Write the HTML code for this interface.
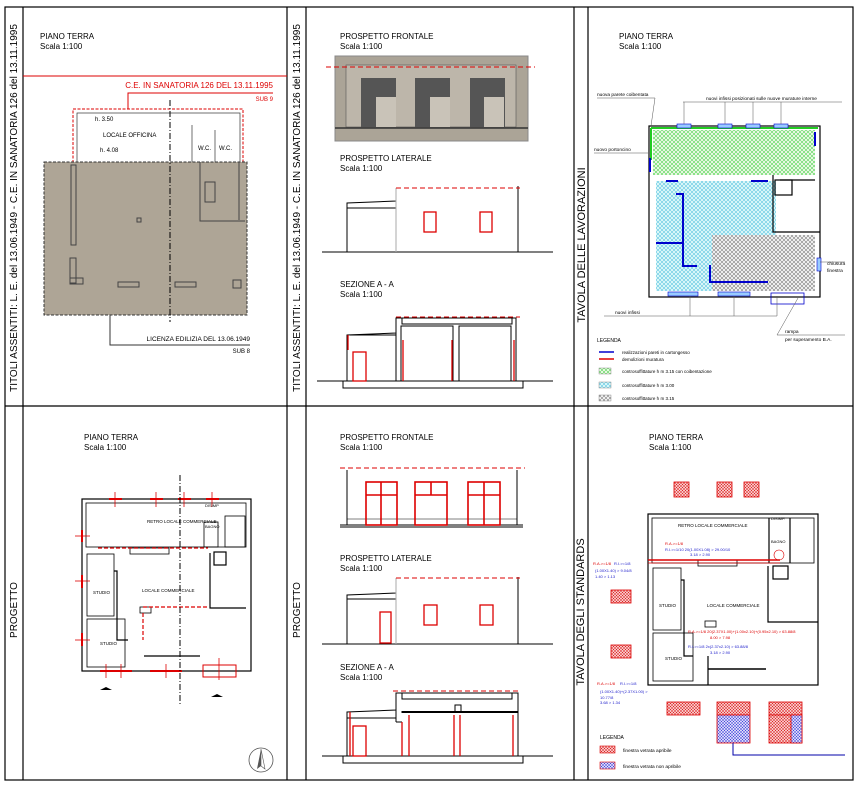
<!DOCTYPE html>
<html><head><meta charset="utf-8"><style>
html,body{margin:0;padding:0;background:#fff}
svg{display:block}
text{font-family:"Liberation Sans",sans-serif;fill:#000}
.t{font-size:8px}
.s{font-size:4.5px}
.r{fill:#d00}
.b{fill:#22c}
</style></head><body>
<svg width="857" height="785" viewBox="0 0 857 785" xmlns="http://www.w3.org/2000/svg">
<defs>
<pattern id="hg" width="4" height="4" patternUnits="userSpaceOnUse"><rect width="4" height="4" fill="#e6f7e0"/><path d="M0 0L4 4M4 0L0 4" stroke="#3c3" stroke-width=".5"/></pattern>
<pattern id="hc" width="4" height="4" patternUnits="userSpaceOnUse"><rect width="4" height="4" fill="#d8f6f8"/><path d="M0 0L4 4M4 0L0 4" stroke="#4bd" stroke-width=".5"/></pattern>
<pattern id="hk" width="4" height="4" patternUnits="userSpaceOnUse"><rect width="4" height="4" fill="#eee"/><path d="M0 0L4 4M4 0L0 4" stroke="#666" stroke-width=".5"/></pattern>
<pattern id="hr" width="3" height="3" patternUnits="userSpaceOnUse"><rect width="3" height="3" fill="#f6c8c8"/><path d="M0 0L3 3M3 0L0 3" stroke="#d22" stroke-width=".5"/></pattern>
<pattern id="hb" width="3" height="3" patternUnits="userSpaceOnUse"><rect width="3" height="3" fill="#d8d8f8"/><path d="M0 0L3 3M3 0L0 3" stroke="#44d" stroke-width=".5"/></pattern>
</defs>
<g fill="none" stroke="#000" stroke-width="1.2">
<rect x="5" y="7" width="848" height="773"/>
<line x1="23" y1="7" x2="23" y2="780"/>
<line x1="287" y1="7" x2="287" y2="780"/>
<line x1="306" y1="7" x2="306" y2="780"/>
<line x1="574" y1="7" x2="574" y2="780"/>
<line x1="588" y1="7" x2="588" y2="780"/>
<line x1="5" y1="406" x2="853" y2="406"/>
</g>
<!-- rotated labels -->
<text transform="translate(17,208) rotate(-90)" text-anchor="middle" font-size="10">TITOLI ASSENTITI: L. E. del 13.06.1949 - C.E. IN SANATORIA 126 del 13.11.1995</text>
<text transform="translate(300,208) rotate(-90)" text-anchor="middle" font-size="10">TITOLI ASSENTITI: L. E. del 13.06.1949 - C.E. IN SANATORIA 126 del 13.11.1995</text>
<text transform="translate(585,245) rotate(-90)" text-anchor="middle" font-size="11">TAVOLA DELLE LAVORAZIONI</text>
<text transform="translate(17,610) rotate(-90)" text-anchor="middle" font-size="10">PROGETTO</text>
<text transform="translate(300,610) rotate(-90)" text-anchor="middle" font-size="10">PROGETTO</text>
<text transform="translate(584,612) rotate(-90)" text-anchor="middle" font-size="11">TAVOLA DEGLI STANDARDS</text>

<!-- TOP LEFT -->
<text x="40" y="39" class="t">PIANO TERRA</text><text x="40" y="49" class="t">Scala 1:100</text>
<line x1="23" y1="76" x2="287" y2="76" stroke="#d00"/>
<text x="273" y="88" class="t r" text-anchor="end" font-size="7">C.E.   IN SANATORIA 126 DEL 13.11.1995</text>
<polyline points="273,93 128,93 128,109" fill="none" stroke="#d00"/>
<text x="273" y="101" class="r" font-size="6" text-anchor="end">SUB 9</text>
<rect x="73" y="109" width="170" height="55" fill="none" stroke="#d00" stroke-dasharray="3,1.5"/>
<rect x="77" y="113" width="163" height="50" fill="none" stroke="#333" stroke-width=".7"/>
<line x1="192" y1="125" x2="192" y2="163" stroke="#333" stroke-width=".7"/>
<line x1="215" y1="130" x2="215" y2="163" stroke="#333" stroke-width=".7"/>
<text x="95" y="121" font-size="6">h. 3.50</text>
<text x="103" y="137" font-size="6">LOCALE OFFICINA</text>
<text x="100" y="152" font-size="6">h. 4.08</text>
<text x="198" y="150" font-size="6">W.C.</text><text x="219" y="150" font-size="6">W.C.</text>
<rect x="44" y="162" width="203" height="153" fill="#aea596" stroke="#333" stroke-dasharray="3,1.5"/>
<g fill="none" stroke="#444" stroke-width="1">
<rect x="71" y="165" width="5" height="80"/><rect x="70" y="258" width="6" height="25"/><rect x="70" y="278" width="13" height="6"/>
<rect x="118" y="282" width="21" height="5"/><rect x="175" y="282" width="21" height="5"/>
<rect x="137" y="218" width="4" height="4"/>
<polyline points="200,162 200,221 245,221"/><polyline points="239,162 239,220"/><rect x="233" y="280" width="8" height="8"/>
<path d="M205 182h10v20h-10z"/>
</g>
<line x1="170" y1="100" x2="170" y2="322" stroke="#000" stroke-dasharray="6,2,1,2"/>
<polyline points="110,315 110,345 250,345" fill="none" stroke="#333"/>
<text x="250" y="341" font-size="6.5" text-anchor="end">LICENZA EDILIZIA DEL 13.06.1949</text>
<text x="250" y="353" font-size="6" text-anchor="end">SUB 8</text>

<!-- TOP MIDDLE -->
<text x="340" y="39" class="t">PROSPETTO FRONTALE</text><text x="340" y="49" class="t">Scala 1:100</text>
<rect x="335" y="56" width="193" height="85" fill="#aba497" stroke="#888"/>
<rect x="346" y="65" width="170" height="62" fill="#bdb6aa" stroke="#555" stroke-width=".6"/>
<g fill="#555"><rect x="361" y="78" width="35" height="49"/><rect x="415" y="78" width="35" height="49"/><rect x="470" y="78" width="35" height="49"/></g>
<g fill="#c9c3b8"><rect x="376" y="97" width="20" height="30"/><rect x="430" y="97" width="20" height="30"/><rect x="484" y="97" width="20" height="30"/></g>
<line x1="335" y1="128" x2="528" y2="128" stroke="#333" stroke-width="1.5"/>
<line x1="326" y1="67" x2="535" y2="67" stroke="#d00" stroke-dasharray="5,3"/>
<text x="340" y="161" class="t">PROSPETTO LATERALE</text><text x="340" y="171" class="t">Scala 1:100</text>
<g fill="none" stroke="#000">
<polyline points="322,252 553,252"/><polyline points="347,252 347,203 396,201 396,188"/><line x1="396" y1="208" x2="347" y2="208"/>
<polyline points="518,186 518,252"/><line x1="396" y1="188" x2="396" y2="252" stroke="#aaa"/>
</g>
<line x1="396" y1="188" x2="520" y2="188" stroke="#d00" stroke-dasharray="5,3"/>
<rect x="424" y="212" width="12" height="20" fill="none" stroke="#d00" stroke-width="1.3"/>
<rect x="480" y="212" width="12" height="20" fill="none" stroke="#d00" stroke-width="1.3"/>
<text x="340" y="287" class="t">SEZIONE A - A</text><text x="340" y="297" class="t">Scala 1:100</text>
<g fill="none" stroke="#000">
<line x1="317" y1="381" x2="553" y2="381"/><polyline points="343,381 343,388 523,388 523,381"/>
<polyline points="347,381 347,335 396,333 396,318 516,318 516,381"/>
<rect x="402" y="318" width="110" height="6"/>
<polyline points="401,381 401,326 453,326 453,381"/><polyline points="459,381 459,326 511,326 511,381"/>
<line x1="396" y1="333" x2="396" y2="381"/><line x1="350" y1="335" x2="396" y2="335"/>
</g>
<line x1="396" y1="317" x2="520" y2="317" stroke="#d00" stroke-dasharray="5,3"/>
<g stroke="#d00" stroke-width="1.3" fill="none"><rect x="353" y="352" width="13" height="29"/><line x1="348" y1="335" x2="348" y2="350"/><line x1="403" y1="340" x2="403" y2="381"/><line x1="452" y1="340" x2="452" y2="381"/><line x1="514" y1="340" x2="514" y2="381"/></g>

<!-- TOP RIGHT -->
<text x="619" y="39" class="t">PIANO TERRA</text><text x="619" y="49" class="t">Scala 1:100</text>
<rect x="653" y="130" width="162" height="45" fill="url(#hg)"/>
<rect x="656" y="181" width="120" height="110" fill="url(#hc)"/>
<rect x="712" y="235" width="103" height="56" fill="url(#hk)"/>
<g fill="none" stroke="#000" stroke-width="1.2">
<rect x="649" y="126" width="171" height="171"/>
<polyline points="773,175 773,232 820,232"/><polyline points="780,180 815,180"/>
<rect x="775" y="180" width="17" height="15"/>
</g>
<line x1="651" y1="128" x2="818" y2="128" stroke="#2c2" stroke-width="2"/>
<line x1="651" y1="128" x2="651" y2="160" stroke="#2c2" stroke-width="2"/>
<g stroke="#00c" stroke-width="2" fill="none">
<line x1="650" y1="158" x2="650" y2="172"/><line x1="815" y1="132" x2="815" y2="146"/>
<polyline points="676,194 683,194 683,266 697,266"/><line x1="656" y1="243" x2="683" y2="243"/>
<polyline points="710,265 710,282 768,282"/><line x1="666" y1="181" x2="678" y2="181"/><line x1="751" y1="181" x2="768" y2="181"/>
</g>
<g fill="#9cf" stroke="#00c" stroke-width=".6"><rect x="677" y="124" width="14" height="4"/><rect x="718" y="124" width="14" height="4"/><rect x="746" y="124" width="14" height="4"/><rect x="774" y="124" width="14" height="4"/><rect x="668" y="292" width="30" height="4"/><rect x="718" y="292" width="32" height="4"/><rect x="817" y="258" width="4" height="13"/></g>
<rect x="771" y="293" width="33" height="11" fill="none" stroke="#00c" stroke-width=".8"/>
<g stroke="#555" stroke-width=".5" fill="none">
<line x1="597" y1="98" x2="655" y2="98"/><line x1="655" y1="98" x2="651" y2="126"/>
<line x1="683" y1="102" x2="842" y2="102"/><line x1="684" y1="102" x2="684" y2="124"/><line x1="725" y1="102" x2="725" y2="124"/><line x1="753" y1="102" x2="753" y2="124"/><line x1="781" y1="102" x2="781" y2="124"/>
<line x1="594" y1="153" x2="648" y2="153"/>
<line x1="604" y1="316" x2="777" y2="316"/><line x1="690" y1="296" x2="690" y2="316"/><line x1="734" y1="296" x2="734" y2="316"/><line x1="777" y1="296" x2="777" y2="316"/>
<line x1="777" y1="335" x2="845" y2="335"/><line x1="777" y1="335" x2="798" y2="298"/>
<line x1="820" y1="262" x2="845" y2="262"/>
</g>
<text x="597" y="96" font-size="4.8">nuova parete coibentata</text>
<text x="706" y="100" font-size="4.8">nuovi infissi posizionati sulle nuove murature interne</text>
<text x="594" y="151" font-size="4.8">nuovo portoncino</text>
<text x="827" y="265" font-size="4.8">chiusura</text><text x="827" y="272" font-size="4.8">finestra</text>
<text x="615" y="314" font-size="4.8">nuovi infissi</text>
<text x="785" y="333" font-size="4.8">rampa</text><text x="785" y="341" font-size="4.8">per superamento B.A.</text>
<text x="597" y="342" font-size="5">LEGENDA</text>
<line x1="599" y1="352" x2="614" y2="352" stroke="#00c" stroke-width="1.5"/>
<line x1="599" y1="359" x2="614" y2="359" stroke="#d00" stroke-width="1.5"/>
<text x="622" y="354" font-size="4.5">realizzazioni pareti in cartongesso</text>
<text x="622" y="361" font-size="4.5">demolizioni muratura</text>
<rect x="599" y="368" width="12" height="6" fill="url(#hg)" stroke="#777" stroke-width=".4"/><text x="622" y="373" font-size="4.5">controsoffittature h m 3.15 con coibentazione</text>
<rect x="599" y="382" width="12" height="6" fill="url(#hc)" stroke="#777" stroke-width=".4"/><text x="622" y="387" font-size="4.5">controsoffittature h m 3.00</text>
<rect x="599" y="395" width="12" height="6" fill="url(#hk)" stroke="#777" stroke-width=".4"/><text x="622" y="400" font-size="4.5">controsoffittature h m 3.15</text>

<!-- BOTTOM LEFT -->
<text x="84" y="440" class="t">PIANO TERRA</text><text x="84" y="450" class="t">Scala 1:100</text>
<g fill="none" stroke="#000" stroke-width="1.2">
<rect x="82" y="499" width="169" height="172"/>
<rect x="86" y="503" width="160" height="44" stroke-width=".8"/>
<rect x="87" y="554" width="27" height="62" stroke-width=".8"/>
<rect x="87" y="619" width="38" height="48" stroke-width=".8"/>
<rect x="204" y="522" width="14" height="25" stroke-width=".8"/><rect x="225" y="516" width="20" height="31" stroke-width=".8"/>
<rect x="130" y="548" width="39" height="6" stroke-width=".8"/>
<polyline points="210,553 210,608 246,608"/><rect x="214" y="552" width="12" height="13"/>
<rect x="140" y="607" width="11" height="6" stroke-width=".8"/>
<polyline points="114,571 117,571 117,640 128,640"/>
</g>
<line x1="144" y1="656" x2="200" y2="656" stroke="#000" stroke-width="1.3"/>
<g stroke="#d00" stroke-width="1.2" fill="none" stroke-dasharray="4,2">
<line x1="98" y1="548" x2="208" y2="548"/><line x1="143" y1="607" x2="208" y2="607"/><line x1="143" y1="613" x2="143" y2="640"/>
</g>
<g stroke="#d00" stroke-width="2"><line x1="109" y1="499" x2="122" y2="499"/><line x1="150" y1="499" x2="163" y2="499"/><line x1="178" y1="499" x2="191" y2="499"/><line x1="206" y1="499" x2="219" y2="499"/>
<line x1="82" y1="530" x2="82" y2="542"/><line x1="82" y1="575" x2="82" y2="588"/><line x1="82" y1="633" x2="82" y2="646"/>
<line x1="100" y1="671" x2="132" y2="671"/><line x1="150" y1="671" x2="182" y2="671"/></g>
<rect x="203" y="665" width="33" height="12" fill="none" stroke="#d00"/>
<g stroke="#d00" stroke-width=".8"><line x1="115" y1="492" x2="115" y2="507"/><line x1="156" y1="492" x2="156" y2="507"/><line x1="184" y1="492" x2="184" y2="507"/><line x1="212" y1="492" x2="212" y2="507"/>
<line x1="75" y1="536" x2="90" y2="536"/><line x1="75" y1="581" x2="90" y2="581"/><line x1="75" y1="640" x2="90" y2="640"/>
<line x1="106" y1="664" x2="106" y2="678"/><line x1="121" y1="664" x2="121" y2="678"/><line x1="166" y1="664" x2="166" y2="678"/><line x1="219" y1="658" x2="219" y2="680"/></g>
<line x1="180" y1="475" x2="180" y2="705" stroke="#000" stroke-dasharray="6,2,1,2"/>
<text x="147" y="523" font-size="4.5">RETRO LOCALE COMMERCIALE</text>
<text x="142" y="592" font-size="4.5">LOCALE COMMERCIALE</text>
<text x="93" y="594" font-size="4.5">STUDIO</text><text x="100" y="645" font-size="4.5">STUDIO</text>
<text x="205" y="507" font-size="4">DISIMP</text><text x="205" y="528" font-size="4">BAGNO</text>
<path d="M100 690l6-3 6 3z M211 697l6-3 6 3z"/>
<circle cx="261" cy="760" r="12" fill="none" stroke="#555" stroke-width=".8"/><path d="M261 749l-4 20 4-3z" fill="#555"/><path d="M261 749l4 20-4-3z" fill="none" stroke="#555" stroke-width=".6"/>

<!-- BOTTOM MIDDLE -->
<text x="340" y="440" class="t">PROSPETTO FRONTALE</text><text x="340" y="450" class="t">Scala 1:100</text>
<line x1="340" y1="468" x2="525" y2="468" stroke="#d00" stroke-dasharray="5,3"/>
<g fill="none" stroke="#000"><line x1="347" y1="470" x2="347" y2="525"/><line x1="517" y1="470" x2="517" y2="525"/><line x1="340" y1="525" x2="523" y2="525"/><line x1="340" y1="527" x2="523" y2="527"/><line x1="347" y1="519" x2="517" y2="519" stroke-width=".5"/></g>
<g fill="none" stroke="#d00" stroke-width="1.6">
<rect x="366" y="482" width="31" height="43"/><line x1="366" y1="495" x2="397" y2="495"/><line x1="381" y1="482" x2="381" y2="525"/>
<rect x="415" y="482" width="32" height="43"/><line x1="415" y1="495" x2="447" y2="495"/><line x1="431" y1="482" x2="431" y2="495"/>
<rect x="468" y="482" width="32" height="43"/><line x1="468" y1="495" x2="500" y2="495"/><line x1="484" y1="482" x2="484" y2="525"/>
</g>
<text x="340" y="561" class="t">PROSPETTO LATERALE</text><text x="340" y="571" class="t">Scala 1:100</text>
<g fill="none" stroke="#000"><line x1="322" y1="644" x2="553" y2="644"/><polyline points="347,644 347,595 396,593 396,578"/><line x1="347" y1="599" x2="396" y2="599"/><line x1="518" y1="577" x2="518" y2="644"/><line x1="396" y1="578" x2="396" y2="644" stroke="#aaa"/></g>
<line x1="396" y1="578" x2="520" y2="578" stroke="#d00" stroke-dasharray="5,3"/>
<g fill="none" stroke="#d00" stroke-width="1.3"><rect x="380" y="612" width="11" height="31"/><rect x="424" y="605" width="13" height="20"/><rect x="480" y="605" width="13" height="20"/></g>
<text x="340" y="670" class="t">SEZIONE A - A</text><text x="340" y="680" class="t">Scala 1:100</text>
<line x1="393" y1="691" x2="520" y2="691" stroke="#d00" stroke-dasharray="5,3"/>
<g fill="none" stroke="#000">
<line x1="322" y1="756" x2="553" y2="756"/><polyline points="343,756 343,763 523,763 523,756"/>
<polyline points="347,756 347,712 396,710 396,693 518,693 518,756"/>
<rect x="402" y="693" width="110" height="6"/>
<polyline points="401,712 455,712 455,705 461,705 461,712 514,712"/>
<line x1="347" y1="718" x2="396" y2="718"/><line x1="396" y1="710" x2="396" y2="722"/><line x1="396" y1="722" x2="402" y2="722"/>
</g>
<line x1="402" y1="712" x2="518" y2="712" stroke="#000" stroke-width="2"/>
<g fill="none" stroke="#d00" stroke-width="1.3"><rect x="353" y="726" width="13" height="30"/><line x1="350" y1="712" x2="350" y2="756"/><line x1="402" y1="722" x2="402" y2="756"/><line x1="409" y1="715" x2="409" y2="756"/><line x1="454" y1="715" x2="454" y2="756"/><line x1="460" y1="715" x2="460" y2="756"/><line x1="513" y1="715" x2="513" y2="756"/></g>

<!-- BOTTOM RIGHT -->
<text x="649" y="440" class="t">PIANO TERRA</text><text x="649" y="450" class="t">Scala 1:100</text>
<g fill="url(#hr)" stroke="#d00" stroke-width=".8">
<rect x="674" y="482" width="15" height="15"/><rect x="717" y="482" width="15" height="15"/><rect x="744" y="482" width="15" height="15"/>
<rect x="611" y="590" width="20" height="13"/><rect x="611" y="645" width="20" height="13"/>
<rect x="667" y="702" width="33" height="13"/><rect x="717" y="702" width="33" height="13"/><rect x="769" y="702" width="33" height="13"/>
<rect x="769" y="715" width="33" height="28"/>
</g>
<rect x="717" y="715" width="33" height="28" fill="url(#hb)" stroke="#d00" stroke-width=".8"/>
<rect x="791" y="715" width="11" height="28" fill="url(#hb)" stroke="#d00" stroke-width=".8"/>
<g fill="none" stroke="#000" stroke-width="1.2">
<rect x="648" y="514" width="170" height="171"/>
<rect x="652" y="518" width="162" height="45" stroke-width=".8"/>
<rect x="653" y="568" width="28" height="62" stroke-width=".8"/><rect x="653" y="633" width="40" height="48" stroke-width=".8"/>
<rect x="698" y="560" width="39" height="6" stroke-width=".8"/>
<polyline points="768,566 768,622 818,622"/><rect x="773" y="566" width="15" height="13"/>
<rect x="705" y="621" width="11" height="6" stroke-width=".8"/><line x1="769" y1="518" x2="769" y2="563"/><line x1="790" y1="518" x2="790" y2="563"/>
<polyline points="681,580 684,580 684,656 693,656"/><line x1="708" y1="656" x2="708" y2="685"/>
</g>
<line x1="708" y1="669" x2="766" y2="669" stroke="#000" stroke-width="1.5"/>
<line x1="648" y1="560" x2="780" y2="560" stroke="#d00" stroke-width="1.5"/><line x1="648" y1="563" x2="780" y2="563" stroke="#d00" stroke-width=".8"/>
<circle cx="779" cy="555" r="5" fill="none" stroke="#d00" stroke-width=".6"/>
<polyline points="733,743 733,755 845,755" fill="none" stroke="#00a"/>
<text x="678" y="527" font-size="4.5">RETRO LOCALE COMMERCIALE</text>
<text x="707" y="607" font-size="4.5">LOCALE COMMERCIALE</text>
<text x="659" y="607" font-size="4.5">STUDIO</text><text x="665" y="660" font-size="4.5">STUDIO</text>
<text x="771" y="520" font-size="4">DISIMP.</text><text x="771" y="543" font-size="4">BAGNO</text>
<text x="665" y="545" font-size="4" class="r">R.A.&gt;=1/8</text><text x="665" y="551" font-size="4" class="b">R.I.&gt;=1/10   20(1.00X1.08) &gt; 29.00/10</text><text x="690" y="556" font-size="4" class="b">3.18 &gt; 2.90</text>
<text x="593" y="565" font-size="4" class="r">R.A.&gt;=1/8</text><text x="614" y="565" font-size="4" class="b">R.I.&gt;=1/8</text>
<text x="595" y="572" font-size="4" class="b">(1.00X1.40) &gt; 9.04/8</text><text x="595" y="578" font-size="4" class="b">1.40 &gt; 1.13</text>
<text x="688" y="633" font-size="4" class="r">R.A.&gt;=1/8    20(2.37X1.00)+(1.00x2.10)+(0.95x2.10) &gt; 63.88/8</text><text x="710" y="639" font-size="4" class="r">8.00 &gt; 7.98</text>
<text x="688" y="648" font-size="4" class="b">R.I.&gt;=1/8    2x(2.37x2.10) &gt; 63.88/8</text><text x="710" y="654" font-size="4" class="b">3.18 &gt; 2.90</text>
<text x="597" y="685" font-size="4" class="r">R.A.&gt;=1/8</text><text x="620" y="685" font-size="4" class="b">R.I.&gt;=1/8</text>
<text x="600" y="693" font-size="4" class="b">(1.00X1.40)+(2.37X1.00) &gt;</text><text x="600" y="699" font-size="4" class="b">10.77/8</text><text x="600" y="704" font-size="4" class="b">3.68 &gt; 1.34</text>
<text x="600" y="739" font-size="5">LEGENDA</text>
<rect x="600" y="746" width="15" height="7" fill="url(#hr)" stroke="#d00" stroke-width=".6"/><text x="623" y="752" font-size="4.8">finestra vetrata apribile</text>
<rect x="600" y="762" width="15" height="7" fill="url(#hb)" stroke="#d00" stroke-width=".6"/><text x="623" y="768" font-size="4.8">finestra vetrata non apribile</text>
</svg>
</body></html>
